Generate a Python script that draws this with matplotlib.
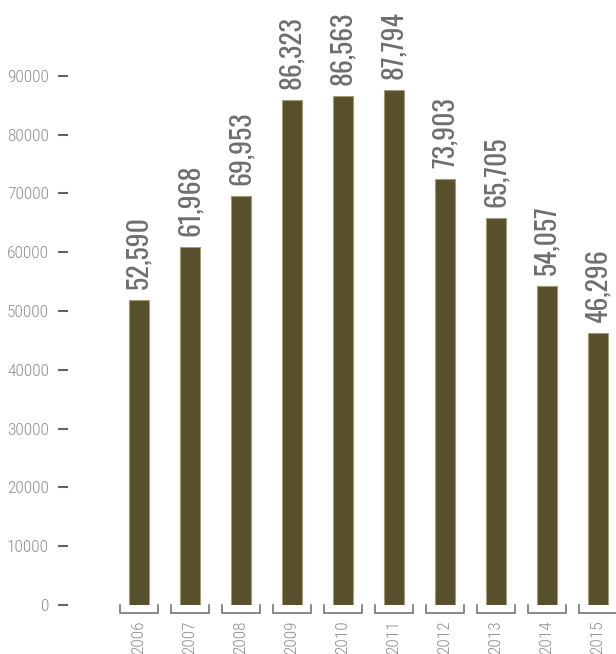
import numpy as np
import matplotlib.pyplot as plt

# Data
years = ['2006', '2007', '2008', '2009', '2010', '2011', '2012', '2013', '2014', '2015']
bar_values = [51870, 60830, 69560, 85880, 86560, 87590, 72400, 65760, 54300, 46210]
label_values = [52590, 61968, 69953, 86323, 86563, 87794, 73903, 65705, 54057, 46296]
y_ticks = [0, 10000, 20000, 30000, 40000, 50000, 60000, 70000, 80000, 90000]

bar_color = '#57502a'
text_gray = '#8e8e8e'
label_gray = '#6b6f6f'
font_ticks = ['Roboto Condensed', 'DejaVu Sans']
font_values = ['Oswald', 'DejaVu Sans']

fig = plt.figure(figsize=(6.16, 6.54), dpi=100)
ax = fig.add_axes([58 / 616, 49 / 654, 558 / 616, 605 / 654])

x = np.arange(len(years))
ax.bar(x, bar_values, width=0.39, color=bar_color,
       edgecolor='#a29b7a', linewidth=0.8)

# rotated value labels above each bar
for xi, h, v in zip(x, bar_values, label_values):
    ax.annotate(f'{v:,}', xy=(xi, h), xytext=(0, 8), textcoords='offset points',
                rotation=90, ha='center', va='bottom', fontsize=20,
                fontweight='light', family=font_values, color=label_gray)

# bracket under each bar
hw = 0.3725
for xi in x:
    ax.plot([xi - hw, xi - hw, xi + hw, xi + hw], [0, -1400, -1400, 0],
            color='#6a6a6a', linewidth=1.1, clip_on=False,
            solid_joinstyle='miter')

ax.set_xlim(-1.588, 9.353)
ax.set_ylim(0, 102900)

ax.set_yticks(y_ticks)
ax.set_yticklabels([str(t) for t in y_ticks], family=font_ticks,
                   fontsize=12.5, fontweight='light', color=text_gray)
ax.tick_params(axis='y', direction='in', length=7.2, width=1.5,
               color='#5f6363', pad=6.5)

ax.set_xticks(x)
ax.set_xticklabels(years, rotation=90, family=font_ticks,
                   fontsize=12.5, fontweight='light', color=text_gray)
ax.tick_params(axis='x', length=0, pad=11)

for s in ax.spines.values():
    s.set_visible(False)

fig.savefig('out.png', dpi=100)
